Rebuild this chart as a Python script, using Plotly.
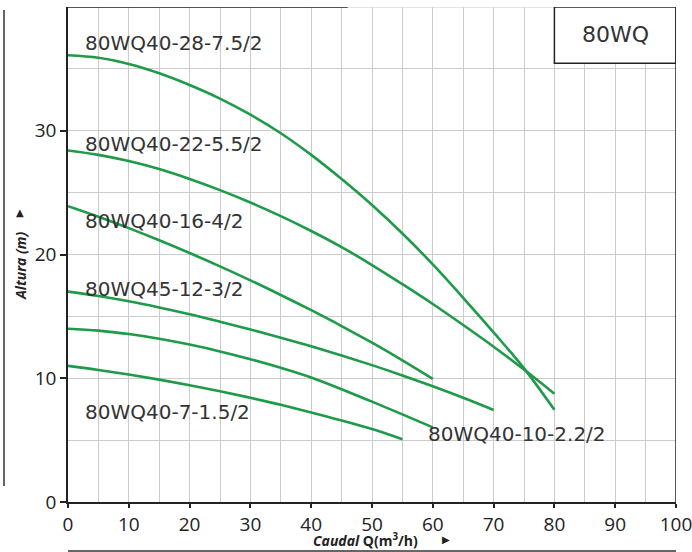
import plotly.graph_objects as go

# ---- data ----
q_28 = [0, 5, 10, 15, 20, 25, 30, 35, 40, 45, 50, 55, 60, 65, 70, 75, 80]
h_28 = [36.1, 35.9, 35.4, 34.65, 33.7, 32.6, 31.3, 29.8, 28.05, 26.1, 24.0, 21.7, 19.2, 16.5, 13.7, 10.8, 7.45]

q_22 = [0, 5, 10, 15, 20, 25, 30, 35, 40, 45, 50, 55, 60, 65, 70, 75, 80]
h_22 = [28.4, 28.05, 27.55, 26.9, 26.1, 25.2, 24.2, 23.1, 21.9, 20.6, 19.15, 17.6, 16.0, 14.3, 12.55, 10.7, 8.75]

q_16 = [0, 5, 10, 15, 20, 25, 30, 35, 40, 45, 50, 55, 60]
h_16 = [23.9, 23.05, 22.13, 21.15, 20.12, 19.04, 17.91, 16.73, 15.5, 14.22, 12.87, 11.45, 9.95]

q_12 = [0, 5, 10, 15, 20, 25, 30, 35, 40, 45, 50, 55, 60, 65, 70]
h_12 = [17.0, 16.65, 16.22, 15.72, 15.17, 14.57, 13.94, 13.28, 12.58, 11.84, 11.06, 10.23, 9.35, 8.42, 7.44]

q_10 = [0, 5, 10, 15, 20, 25, 30, 35, 40, 45, 50, 55, 60]
h_10 = [14.0, 13.85, 13.57, 13.19, 12.72, 12.17, 11.54, 10.84, 10.06, 9.11, 8.11, 7.08, 6.03]

q_7 = [0, 5, 10, 15, 20, 25, 30, 35, 40, 45, 50, 55]
h_7 = [11.0, 10.67, 10.3, 9.89, 9.44, 8.95, 8.42, 7.85, 7.24, 6.59, 5.89, 5.07]

series = [
    ("80WQ40-28-7.5/2", q_28, h_28),
    ("80WQ40-22-5.5/2", q_22, h_22),
    ("80WQ40-16-4/2", q_16, h_16),
    ("80WQ45-12-3/2", q_12, h_12),
    ("80WQ40-10-2.2/2", q_10, h_10),
    ("80WQ40-7-1.5/2", q_7, h_7),
]

# label positions (Q, H)
label_names = ["80WQ40-28-7.5/2", "80WQ40-22-5.5/2", "80WQ40-16-4/2",
               "80WQ45-12-3/2", "80WQ40-7-1.5/2", "80WQ40-10-2.2/2"]
label_q = [2.4, 2.4, 2.4, 2.4, 2.4, 58.8]
label_h = [37.1, 28.9, 22.7, 17.25, 7.27, 5.47]

x_ticks = [0, 10, 20, 30, 40, 50, 60, 70, 80, 90, 100]
y_ticks = [0, 10, 20, 30]

GREEN = "#1e9a49"
DARK = "#222222"
GRID = "#cccccc"

fig = go.Figure()
for name, q, h in series:
    fig.add_trace(go.Scatter(x=q, y=h, mode="lines", name=name,
                             line=dict(color=GREEN, width=2.6, shape="spline", smoothing=1.0),
                             hoverinfo="skip"))

for name, xq, yh in zip(label_names, label_q, label_h):
    fig.add_annotation(x=xq, y=yh, xref="x", yref="y", text=name, showarrow=False,
                       xanchor="left", yanchor="middle",
                       font=dict(family="DejaVu Sans", size=20, color="#333333"))

# model box
fig.add_shape(type="rect", xref="x", yref="y", x0=80, x1=100, y0=35.45, y1=40,
              fillcolor="white", line=dict(color=DARK, width=1.5), layer="above")
fig.add_annotation(x=90, y=37.75, xref="x", yref="y", text="80WQ", showarrow=False,
                   xanchor="center", yanchor="middle",
                   font=dict(family="DejaVu Sans", size=22, color="#333333"))

# borders
fig.add_shape(type="line", xref="x", yref="y", x0=100, x1=100, y0=0, y1=40,
              line=dict(color=DARK, width=1.5))
fig.add_shape(type="line", xref="x", yref="y", x0=0, x1=100, y0=40, y1=40,
              line=dict(color=GRID, width=1), layer="below")
fig.add_shape(type="line", xref="x", yref="y", x0=0, x1=46, y0=40, y1=40,
              line=dict(color=DARK, width=1.5))

# decorative title rules
fig.add_shape(type="line", xref="paper", yref="paper", x0=-64/608, x1=-64/608,
              y0=(502-486)/495, y1=(502-10)/495, line=dict(color="#333333", width=1.5))
fig.add_shape(type="line", xref="paper", yref="paper", x0=0, x1=1,
              y0=-(551-502)/495, y1=-(551-502)/495, line=dict(color="#333333", width=1.5))

# axis titles
fig.add_annotation(xref="paper", yref="paper", x=-48/608, y=(502-266)/495,
                   xanchor="center", yanchor="middle",
                   text="<b><i>Altura (m)</i></b>", textangle=-90, showarrow=False,
                   font=dict(family="Open Sans", size=14, color=DARK))
fig.add_annotation(xref="paper", yref="paper", x=-48/608, y=(502-212)/495,
                   xanchor="center", yanchor="middle",
                   text="▲", showarrow=False,
                   font=dict(family="DejaVu Sans", size=10, color=DARK))
fig.add_annotation(xref="paper", yref="paper", x=(365-68)/608, y=-(540-502)/495,
                   xanchor="center", yanchor="middle",
                   text="<b><i>Caudal</i> Q(m<sup>3</sup>/h)</b>", showarrow=False,
                   font=dict(family="Open Sans", size=14, color=DARK))
fig.add_annotation(xref="paper", yref="paper", x=(446-68)/608, y=-(539-502)/495,
                   xanchor="center", yanchor="middle",
                   text="▶", showarrow=False,
                   font=dict(family="DejaVu Sans", size=10, color=DARK))

fig.update_layout(
    width=692, height=552,
    margin=dict(l=68, r=16, t=7, b=50),
    paper_bgcolor="white", plot_bgcolor="white",
    showlegend=False,
    xaxis=dict(range=[0, 100], tickvals=x_ticks, ticktext=[str(v) for v in x_ticks],
               showgrid=True, gridcolor=GRID, gridwidth=1,
               minor=dict(dtick=5, tick0=0, showgrid=True, gridcolor=GRID, gridwidth=1),
               showline=True, linecolor=DARK, linewidth=1.5,
               ticks="outside", ticklen=4, tickcolor=DARK, tickwidth=1.5,
               tickfont=dict(family="Open Sans", size=19, color=DARK),
               ticklabeloverflow="allow",
               zeroline=False, fixedrange=True, automargin=False),
    yaxis=dict(range=[0, 40], tickvals=y_ticks, ticktext=[str(v) for v in y_ticks],
               showgrid=True, gridcolor=GRID, gridwidth=1,
               minor=dict(dtick=5, tick0=0, showgrid=True, gridcolor=GRID, gridwidth=1),
               showline=True, linecolor=DARK, linewidth=1.5,
               ticks="outside", ticklen=6, tickcolor=DARK, tickwidth=1.5,
               tickfont=dict(family="Open Sans", size=19, color=DARK),
               ticklabeloverflow="allow",
               zeroline=False, fixedrange=True, automargin=False),
)

fig.write_html("out.html", config={"displayModeBar": False},
               post_script="document.body.style.margin='0';document.body.style.overflow='hidden';")
